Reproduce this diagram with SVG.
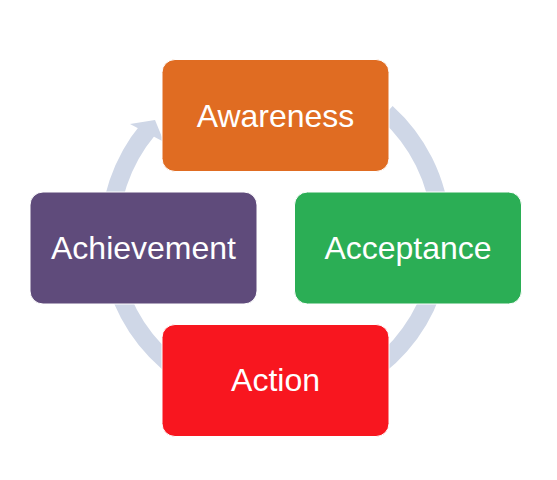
<svg xmlns="http://www.w3.org/2000/svg" width="557" height="480" viewBox="0 0 557 480">
  <style>
    .box { stroke: #ffffff; stroke-width: 1; }
    .lbl { font-family: "Liberation Sans", Arial, sans-serif; font-size: 32px; fill: #ffffff; text-anchor: middle; }
    .ring { fill: none; stroke: #CFD7E7; stroke-width: 18; stroke-linecap: butt; }
  </style>
  <rect width="557" height="480" fill="#ffffff"/>
  <g id="connectors">
    <path class="ring" d="M 386.6 112.6 A 166 166 0 1 1 148.3 129.3"/>
    <polygon points="130,124 155,120 164,142" fill="#CFD7E7"/>
  </g>
  <g id="awareness">
    <rect class="box" x="162" y="59.5" width="227" height="112" rx="13" fill="#E06C22"/>
    <text class="lbl" x="275.5" y="126.7">Awareness</text>
  </g>
  <g id="acceptance">
    <rect class="box" x="294.5" y="192" width="227" height="112" rx="13" fill="#2BAE55"/>
    <text class="lbl" x="408" y="259">Acceptance</text>
  </g>
  <g id="achievement">
    <rect class="box" x="30" y="192" width="227" height="112" rx="13" fill="#5F4B7B"/>
    <text class="lbl" x="143.5" y="258.5">Achievement</text>
  </g>
  <g id="action">
    <rect class="box" x="162" y="324.5" width="227" height="112" rx="13" fill="#F8161F"/>
    <text class="lbl" x="275.5" y="391">Action</text>
  </g>
</svg>
